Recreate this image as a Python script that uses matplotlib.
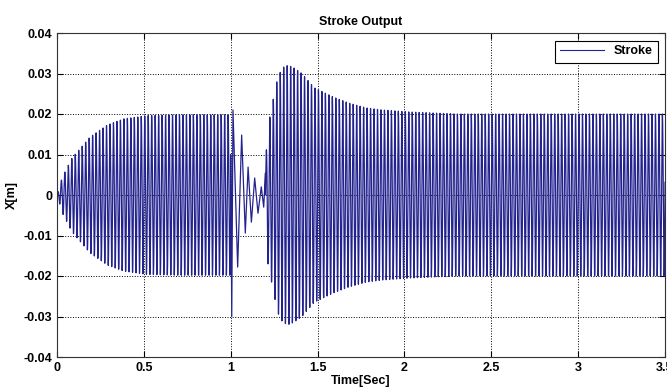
import numpy as np
import matplotlib.pyplot as plt

# carrier frequency of the stroke oscillation (Hz), read from peak spacing
freq = 50.0

# start-up envelope, 0 .. 1.0 s
envA_t = [0.0, 0.03, 0.086, 0.19, 0.29, 0.385, 0.52, 0.70, 1.0]
envA_x = [0.0, 0.0044, 0.0091, 0.0143, 0.0173, 0.0188, 0.0196, 0.0198, 0.0198]

# transient around the switch, 1.0 .. 1.2 s (peaks and troughs)
trans_t = [1.000, 1.006, 1.013, 1.040, 1.063, 1.084, 1.100, 1.119, 1.138,
           1.157, 1.176, 1.190, 1.200]
trans_x = [0.010, -0.030, 0.021, -0.0178, 0.0148, -0.0094, 0.0069, -0.0067,
           0.0042, -0.0045, 0.0020, -0.0030, 0.0054]

# envelope after restart, 1.2 .. 3.5 s
envC_t = [1.20, 1.215, 1.235, 1.27, 1.30, 1.33, 1.36, 1.41, 1.48, 1.59,
          1.68, 1.78, 1.87, 2.03, 2.30, 3.50]
envC_x = [0.008, 0.017, 0.0215, 0.029, 0.0315, 0.032, 0.0315, 0.030, 0.0265,
          0.0242, 0.0227, 0.0215, 0.021, 0.0205, 0.0200, 0.0200]

dt = 0.0005
tA = np.arange(0, 1.0, dt)
xA = np.interp(tA, envA_t, envA_x) * np.sin(2 * np.pi * freq * tA)
tC = np.arange(1.2, 3.5 + dt, dt)
xC = np.interp(tC, envC_t, envC_x) * np.sin(2 * np.pi * freq * tC)

t = np.concatenate([tA, trans_t, tC])
x = np.concatenate([xA, trans_x, xC])

plt.rcParams['font.family'] = ['Liberation Sans Narrow', 'Liberation Sans', 'DejaVu Sans']
plt.rcParams['font.weight'] = 'bold'

fig = plt.figure(figsize=(6.67, 3.92), dpi=100)
ax = fig.add_axes([57 / 667, 1 - 357 / 392, 608 / 667, 324 / 392])
ax.plot(t, x, color='#23238f', linewidth=0.9, label='Stroke')
ax.set_xlim(0, 3.5)
ax.set_ylim(-0.04, 0.04)
ax.set_xticks([0, 0.5, 1, 1.5, 2, 2.5, 3, 3.5])
ax.set_xticklabels(['0', '0.5', '1', '1.5', '2', '2.5', '3', '3.5'])
ax.set_yticks(np.arange(-0.04, 0.041, 0.01))
ax.set_yticklabels(['-0.04', '-0.03', '-0.02', '-0.01', '0', '0.01', '0.02', '0.03', '0.04'])
ax.grid(True, linestyle=':', color='black', linewidth=0.7)
ax.tick_params(direction='in', top=True, right=True, labelsize=9, length=4)
for s in ax.spines.values():
    s.set_linewidth(0.8)
    s.set_color('#333333')
ax.set_title('Stroke Output', fontsize=9, fontweight='bold')
ax.set_xlabel('Time[Sec]', fontsize=9, fontweight='bold', labelpad=1)
ax.set_ylabel('X[m]', fontsize=9, fontweight='bold')
leg = ax.legend(loc='upper right', fontsize=9, fancybox=False, framealpha=1,
                edgecolor='black', handlelength=3.5, borderaxespad=0.6)
leg.get_frame().set_linewidth(0.8)
for h in leg.get_lines():
    h.set_linewidth(0.8)
fig.savefig('out.png', dpi=100)
